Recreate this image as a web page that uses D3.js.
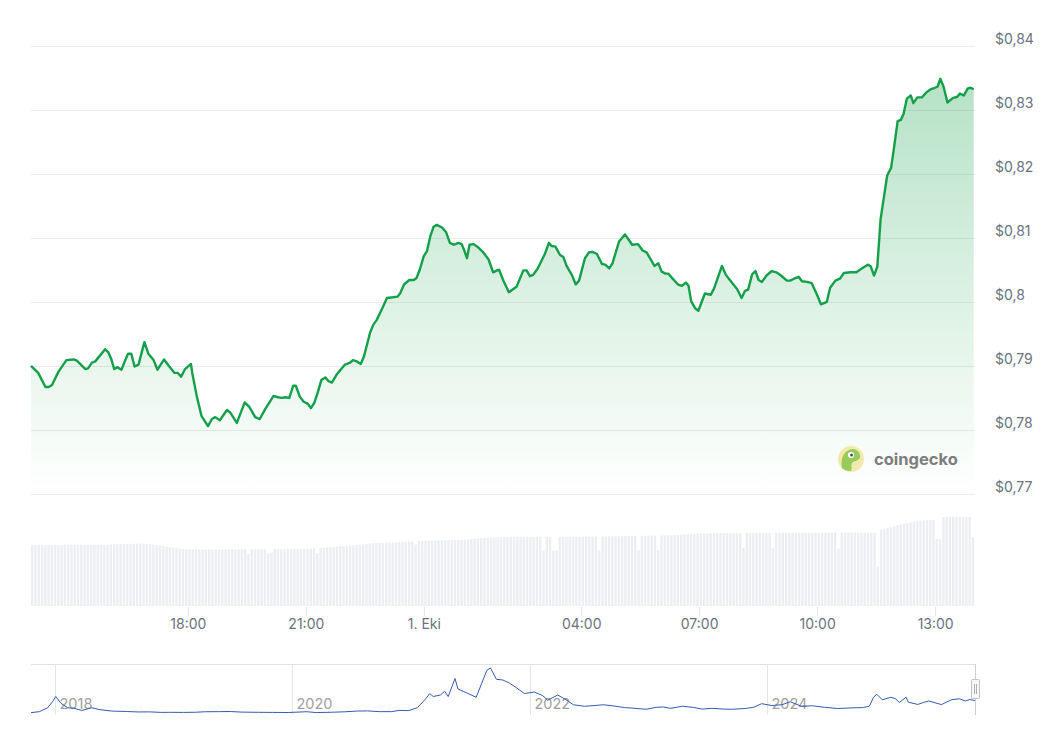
<!DOCTYPE html>
<html>
<head>
<meta charset="utf-8">
<script src="https://cdn.jsdelivr.net/npm/d3@7"></script>
<style>
body{margin:0;background:#fff;}
svg{display:block;font-family:Inter, "Noto Sans", sans-serif;}
</style>
</head>
<body>
<svg id="chart" width="1055" height="738"></svg>
<script>
// price, minutes after 30 Sep 14:00
var priceOffsets = [
  0,11,22,27,32,42,54,65,70,83,
  87,93,98,113,118,122,127,132,138,143,
  148,153,158,164,173,179,187,193,203,211,
  219,224,229,235,244,246,253,260,270,276,
  281,288,292,299,304,314,326,333,342,349,
  357,370,377,382,388,394,400,404,410,416,
  422,427,432,437,443,449,454,459,466,479,
  487,491,497,503,508,517,522,527,535,543,
  552,559,563,569,577,584,588,593,599,604,
  609,614,619,627,633,639,645,652,657,661,
  665,669,675,682,690,698,705,711,714,721,
  729,741,751,756,761,766,773,784,790,794,
  800,807,812,817,825,831,836,845,851,856,
  863,871,876,882,887,897,906,911,917,926,
  933,939,946,951,957,962,968,972,978,987,
  993,999,1003,1007,1013,1018,1028,1037,1042,1054,
  1060,1066,1077,1084,1089,1094,1100,1105,1110,1115,
  1122,1130,1137,1144,1153,1158,1164,1171,1176,1184,
  1191,1199,1205,1214,1219,1227,1234,1240,1250,1259,
  1266,1272,1277,1281,1286,1291,1296,1301,1306,1312,
  1316,1322,1327,1331,1336,1342,1346,1352,1359,1366,
  1373,1379,1383,1387,1392,1398,1406,1413,1417,1423,
  1429,1433,1438
];
var prices = [
  0.7900,0.7889,0.7867,0.7867,0.7870,0.7891,0.7909,0.7910,0.7908,0.7895,
  0.7896,0.7905,0.7907,0.7926,0.7921,0.7912,0.7895,0.7898,0.7894,0.7907,
  0.7919,0.7919,0.7899,0.7902,0.7937,0.7919,0.7909,0.7894,0.7910,0.7899,
  0.7889,0.7889,0.7883,0.7895,0.7903,0.7889,0.7852,0.7822,0.7806,0.7817,
  0.7820,0.7815,0.7821,0.7831,0.7827,0.7811,0.7843,0.7836,0.7820,0.7817,
  0.7832,0.7853,0.7851,0.7850,0.7851,0.7850,0.7869,0.7869,0.7852,0.7844,
  0.7841,0.7834,0.7842,0.7857,0.7878,0.7882,0.7876,0.7874,0.7886,0.7902,
  0.7905,0.7909,0.7907,0.7903,0.7915,0.7951,0.7964,0.7971,0.7988,0.8006,
  0.8007,0.8008,0.8013,0.8027,0.8034,0.8034,0.8037,0.8050,0.8071,0.8079,
  0.8102,0.8117,0.8120,0.8116,0.8109,0.8092,0.8089,0.8092,0.8090,0.8080,
  0.8068,0.8089,0.8090,0.8085,0.8077,0.8066,0.8046,0.8049,0.8050,0.8032,
  0.8015,0.8024,0.8049,0.8049,0.8040,0.8042,0.8052,0.8075,0.8092,0.8087,
  0.8086,0.8073,0.8070,0.8056,0.8042,0.8027,0.8033,0.8068,0.8077,0.8078,
  0.8075,0.8059,0.8058,0.8052,0.8060,0.8094,0.8105,0.8098,0.8089,0.8090,
  0.8080,0.8077,0.8065,0.8056,0.8060,0.8047,0.8044,0.8044,0.8037,0.8027,
  0.8025,0.8030,0.8025,0.8001,0.7990,0.7986,0.8013,0.8011,0.8021,0.8056,
  0.8042,0.8034,0.8020,0.8006,0.8017,0.8019,0.8043,0.8048,0.8034,0.8031,
  0.8041,0.8048,0.8046,0.8041,0.8033,0.8033,0.8036,0.8039,0.8032,0.8031,
  0.8029,0.8011,0.7996,0.8000,0.8022,0.8033,0.8036,0.8045,0.8046,0.8046,
  0.8051,0.8055,0.8058,0.8055,0.8041,0.8055,0.8129,0.8163,0.8197,0.8209,
  0.8237,0.8282,0.8284,0.8293,0.8317,0.8322,0.8310,0.8319,0.8319,0.8327,
  0.8332,0.8334,0.8336,0.8348,0.8336,0.8311,0.8318,0.8320,0.8325,0.8322,
  0.8333,0.8334,0.8332
];

// 24h volume (millions USD), one bar per 5 minutes, 12 per row = 1 hour
var volumes = [
  915,912,918,915,910,916,913,917,911,914,918,915,
  920,915,918,922,917,920,916,921,918,923,919,921,
  925,928,926,930,934,931,935,933,936,934,932,935,
  928,920,912,905,898,890,882,875,868,860,855,850,
  848,845,850,846,843,848,850,845,847,849,844,846,
  848,850,846,849,851,847,780,850,848,852,849,851,
  790,800,852,855,850,853,857,855,858,856,860,858,
  862,865,868,790,872,875,878,882,885,890,893,897,
  900,905,910,915,920,925,930,935,940,943,945,946,
  948,950,952,955,958,960,962,965,968,920,972,975,
  978,980,983,981,985,983,987,985,990,988,992,990,
  995,1000,1005,1010,1015,1018,1022,1025,1028,1026,1030,1032,
  1033,1035,1034,1036,1035,1037,1036,1034,1037,1036,1038,1037,
  830,1038,1036,830,835,1037,1039,1038,1040,1037,1039,1041,
  1040,1042,1041,1043,1042,830,1044,1043,1046,1045,1047,1046,
  1048,1050,1049,1051,1050,840,1053,1052,1055,1054,1056,840,
  1058,1060,1062,1064,1066,1068,1070,1072,1075,1078,1082,1085,
  1088,1090,1089,1091,1090,1092,1091,1093,1092,1090,1093,1092,
  1091,870,1093,1095,1094,1096,1095,1097,1096,1098,870,1097,
  1098,1100,1099,1101,1100,1102,1101,1099,1102,1100,1103,1101,
  1100,1102,1101,1103,1102,1100,860,1102,1101,1103,1102,1104,
  1103,1101,1104,1102,1100,1098,590,1140,1155,1170,1185,1200,
  1212,1225,1235,1245,1255,1265,1272,1280,1285,1288,1290,1290,
  1005,1005,1335,1338,1335,1340,1338,1336,1340,1338,1335,1035
];

var yTicks = [0.77, 0.78, 0.79, 0.80, 0.81, 0.82, 0.83, 0.84];
var xTickHours = [18, 21, 24, 28, 31, 34, 37]; // hours after 30 Sep 00:00

// navigator: long history
var navDates = [
  "2017-10-20","2017-11-15","2017-12-10","2017-12-25","2018-01-04","2018-01-20","2018-02-10","2018-03-01",
  "2018-03-25","2018-04-25","2018-05-20","2018-06-25","2018-08-10","2018-09-15","2018-10-20","2018-11-25",
  "2018-12-20","2019-02-01","2019-03-10","2019-04-10","2019-05-20","2019-06-25","2019-07-30","2019-09-20",
  "2019-11-01","2019-12-20","2020-02-15","2020-03-15","2020-05-01","2020-06-10","2020-07-20","2020-08-20",
  "2020-09-25","2020-11-01","2020-11-25","2020-12-25","2021-01-20","2021-02-15","2021-02-27","2021-03-10",
  "2021-04-01","2021-04-14","2021-04-25","2021-05-16","2021-05-25","2021-06-20","2021-07-20","2021-08-22",
  "2021-09-02","2021-09-20","2021-10-10","2021-10-30","2021-11-20","2021-12-15","2022-01-15","2022-02-10",
  "2022-02-25","2022-03-28","2022-04-25","2022-05-15","2022-06-18","2022-07-20","2022-08-15","2022-09-15",
  "2022-10-20","2022-11-15","2022-12-25","2023-01-25","2023-02-15","2023-03-10","2023-04-15","2023-05-20",
  "2023-06-15","2023-07-15","2023-08-20","2023-09-15","2023-10-25","2023-11-20","2023-12-15","2024-01-15",
  "2024-02-15","2024-03-12","2024-04-15","2024-05-20","2024-06-25","2024-08-05","2024-09-15","2024-10-20",
  "2024-11-10","2024-11-23","2024-12-03","2024-12-20","2025-01-15","2025-01-30","2025-02-10","2025-03-03",
  "2025-03-10","2025-04-08","2025-04-25","2025-05-12","2025-06-20","2025-07-20","2025-08-14","2025-09-01",
  "2025-09-15","2025-10-01"
];
var navPrices = [
  0.025,0.09,0.35,0.75,1.10,0.65,0.35,0.32,
  0.17,0.35,0.22,0.13,0.10,0.07,0.075,0.04,
  0.045,0.04,0.05,0.085,0.09,0.10,0.06,0.045,
  0.04,0.033,0.085,0.03,0.05,0.08,0.13,0.14,
  0.09,0.09,0.17,0.16,0.35,0.95,1.30,1.10,
  1.20,1.45,1.10,2.30,1.60,1.35,1.05,2.85,
  3.00,2.25,2.20,2.00,1.70,1.30,1.40,1.15,
  0.85,1.20,0.85,0.55,0.45,0.50,0.55,0.47,
  0.36,0.32,0.25,0.38,0.40,0.31,0.45,0.37,
  0.26,0.31,0.26,0.25,0.30,0.38,0.62,0.50,
  0.55,0.75,0.45,0.48,0.38,0.30,0.34,0.36,
  0.45,1.05,1.25,0.88,1.05,0.95,0.70,1.05,
  0.72,0.57,0.70,0.80,0.56,0.88,0.95,0.80,
  0.90,0.83
];
var navYears = ["2018", "2020", "2022", "2024"];

var svg = d3.select("#chart");
var start = new Date(2025, 8, 30, 14, 0);
function addMin(m){ return new Date(start.getTime() + m * 60000); }

var x = d3.scaleTime()
    .domain([start, addMin(1440)])
    .range([31, 975]);
var y = d3.scaleLinear().domain([0.77, 0.84]).range([494, 45.5]);
var yVol = d3.scaleLinear().domain([0, 1500]).range([606, 506]);

var priceData = priceOffsets.map(function(m, i){ return {t: addMin(m), v: prices[i]}; });

// grid lines
svg.append("g").selectAll("line").data(yTicks).enter().append("line")
    .attr("x1", 31).attr("x2", 975)
    .attr("y1", function(d){ return Math.round(y(d)) + 0.5; })
    .attr("y2", function(d){ return Math.round(y(d)) + 0.5; })
    .attr("stroke", "#ececec").attr("stroke-width", 1);

// y labels
svg.append("g").selectAll("text").data(yTicks).enter().append("text")
    .attr("x", 995).attr("y", function(d){ return y(d) - 2; })
    .attr("font-size", 14).attr("fill", "#6b7280")
    .text(function(d){ return "$" + String(+d.toFixed(2)).replace(".", ","); });

// area gradient
var defs = svg.append("defs");
var grad = defs.append("linearGradient").attr("id", "areaGrad")
    .attr("gradientUnits", "userSpaceOnUse")
    .attr("x1", 0).attr("y1", 45).attr("x2", 0).attr("y2", 494);
grad.append("stop").attr("offset", 0).attr("stop-color", "#16a34a").attr("stop-opacity", 0.34);
grad.append("stop").attr("offset", 1).attr("stop-color", "#16a34a").attr("stop-opacity", 0);

// volume bars
var step = x(addMin(5)) - x(start);
svg.append("g").selectAll("rect").data(volumes).enter().append("rect")
    .attr("x", function(d, i){ return x(addMin(i * 5)); })
    .attr("width", step - 0.9)
    .attr("y", function(d){ return yVol(d); })
    .attr("height", function(d){ return yVol(0) - yVol(d); })
    .attr("fill", "#eceef2");

var area = d3.area()
    .x(function(d){ return x(d.t); })
    .y0(494)
    .y1(function(d){ return y(d.v); });
svg.append("path").datum(priceData).attr("d", area).attr("fill", "url(#areaGrad)");

var line = d3.line()
    .x(function(d){ return x(d.t); })
    .y(function(d){ return y(d.v); });
svg.append("path").datum(priceData).attr("d", line)
    .attr("fill", "none").attr("stroke", "#14a04a")
    .attr("stroke-width", 2.4).attr("stroke-linejoin", "round");

// x axis ticks + labels
var dayStart = new Date(2025, 8, 30, 0, 0);
var tickDates = xTickHours.map(function(h){ return new Date(dayStart.getTime() + h * 3600000); });
var fmt = d3.timeFormat("%H:%M");
var xt = svg.append("g").selectAll("g").data(tickDates).enter().append("g")
    .attr("transform", function(d){ return "translate(" + x(d) + ",0)"; });
xt.append("line").attr("y1", 607).attr("y2", 616).attr("stroke", "#e3e3e3");
xt.append("text").attr("y", 629).attr("text-anchor", "middle")
    .attr("font-size", 14).attr("fill", "#6b7280")
    .text(function(d){ return d.getHours() === 0 ? d.getDate() + ". Eki" : fmt(d); });

// coingecko watermark
var wm = svg.append("g").attr("transform", "translate(851,459)").attr("opacity", 0.85);
wm.append("circle").attr("r", 13).attr("fill", "#f3e6a0");
wm.append("path")
    .attr("d", "M-9,9 C-11,0 -7,-9 1,-10 C7,-10 10,-5 9,-1 C7,2 3,2 1,4 C0,7 1,10 0,12 C-4,12 -7,11 -9,9 Z")
    .attr("fill", "#86c440");
wm.append("circle").attr("cx", 0).attr("cy", -4).attr("r", 3).attr("fill", "#fff");
wm.append("circle").attr("cx", 0.5).attr("cy", -4).attr("r", 1.5).attr("fill", "#333");
svg.append("text").attr("x", 874).attr("y", 465)
    .attr("font-size", 16.5).attr("font-weight", 700).attr("fill", "#7d7d7d")
    .text("coingecko");

// navigator
var parse = d3.timeParse("%Y-%m-%d");
var navData = navDates.map(function(d, i){ return {t: parse(d), v: navPrices[i]}; });
var xNav = d3.scaleTime()
    .domain([parse("2017-10-20"), parse("2025-10-01")])
    .range([31, 975]);
var yNav = d3.scaleLinear().domain([0, 3.0]).range([713, 668]);

svg.append("line").attr("x1", 31).attr("x2", 976).attr("y1", 664.5).attr("y2", 664.5)
    .attr("stroke", "#e2e2e2");
var ny = svg.append("g").selectAll("g").data(navYears).enter().append("g")
    .attr("transform", function(d){ return "translate(" + (Math.round(xNav(parse(d + "-01-01"))) + 0.5) + ",0)"; });
ny.append("line").attr("y1", 664).attr("y2", 715).attr("stroke", "#e6e6e6");
ny.append("text").attr("x", 4).attr("y", 709).attr("font-size", 14.5).attr("fill", "#a0a0a0")
    .text(function(d){ return d; });

svg.append("path").datum(navData)
    .attr("d", d3.line().x(function(d){ return xNav(d.t); }).y(function(d){ return yNav(d.v); }))
    .attr("fill", "none").attr("stroke", "#335cad").attr("stroke-width", 1);

// right handle
svg.append("line").attr("x1", 975.5).attr("x2", 975.5).attr("y1", 664).attr("y2", 715).attr("stroke", "#cfcfcf");
svg.append("rect").attr("x", 971.5).attr("y", 679.5).attr("width", 8).attr("height", 19)
    .attr("fill", "#f7f7f7").attr("stroke", "#c4c4c4").attr("rx", 1);
svg.append("line").attr("x1", 974.5).attr("x2", 974.5).attr("y1", 684).attr("y2", 694).attr("stroke", "#b0b0b0");
svg.append("line").attr("x1", 976.5).attr("x2", 976.5).attr("y1", 684).attr("y2", 694).attr("stroke", "#b0b0b0");
</script>
</body>
</html>
